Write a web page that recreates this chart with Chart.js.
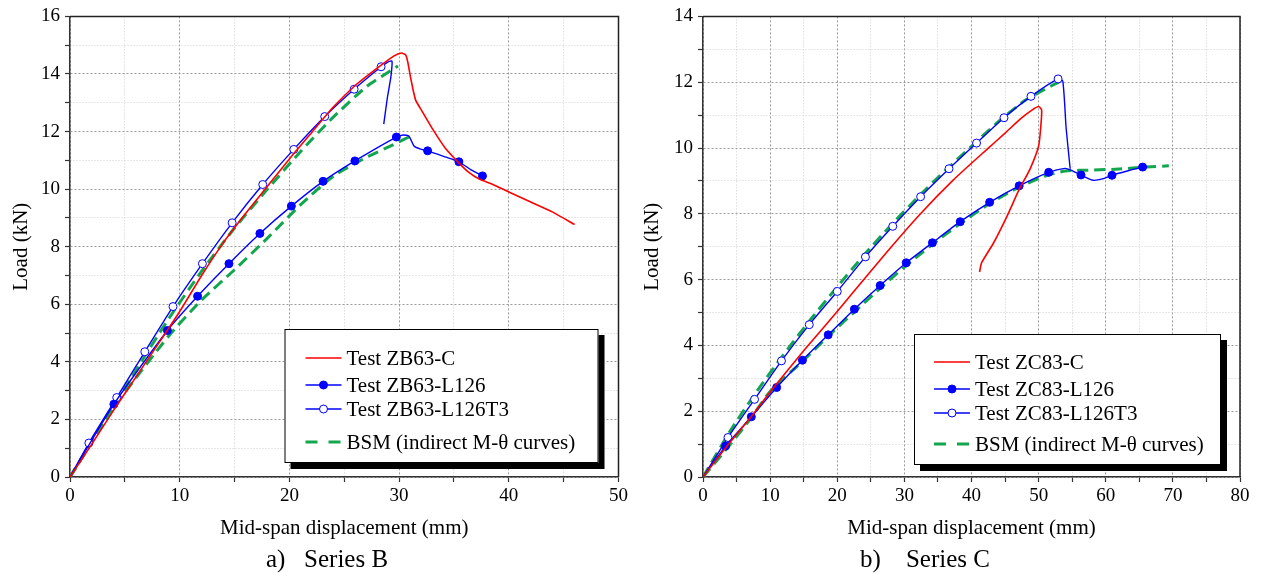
<!DOCTYPE html>
<html><head><meta charset="utf-8">
<script src="https://cdn.jsdelivr.net/npm/chart.js@4.4.1/dist/chart.umd.min.js"></script>
<style>
html,body{margin:0;padding:0;background:#fff;}
#wrap{position:relative;width:1262px;height:573px;}
.panel{position:absolute;top:0;width:631px;height:573px;}
#pB{left:0}#pC{left:631px}
</style></head><body>
<div id="wrap"><div class="panel" id="pB"><canvas id="cB" width="631" height="573"></canvas></div><div class="panel" id="pC"><canvas id="cC" width="631" height="573"></canvas></div></div>
<script>
// ---------- Series B data ----------
const bLegend = ['Test ZB63-C', 'Test ZB63-L126', 'Test ZB63-L126T3', 'BSM (indirect M-θ curves)'];
const bCX = [0,2,4,6,8,10,12,14,16,18,20,22,24,26,28,29.5,30.2,30.6,30.8,31.06,31.5,32.1,33,34.2,35.4,36.3,37.3,38.5,40,42,44,46];
const bCY = [0,1.15,2.33,3.47,4.6,5.75,7.0,8.15,9.15,10.1,11.05,11.95,12.85,13.6,14.2,14.62,14.73,14.66,14.4,13.85,13.1,12.7,12.12,11.43,10.93,10.6,10.35,10.17,9.9,9.55,9.2,8.77];
const bLX = [0,4.0,8.88,11.63,14.49,17.31,20.18,23.07,25.97,29.75,30.4,30.9,31.36,31.9,32.6,34.2,35.45,36.6,37.6];
const bLY = [0,2.53,5.09,6.28,7.41,8.46,9.41,10.27,10.98,11.81,11.88,11.84,11.5,11.4,11.33,11.12,10.95,10.66,10.46];
const bLMarks = [1,2,3,4,5,6,7,8,9,14,16,18];
const bTX = [0,1.72,4.26,6.82,9.39,12.07,14.78,17.57,20.4,23.22,25.9,28.36,29.0,29.35,29.25,28.94,28.6];
const bTY = [0,1.18,2.76,4.35,5.92,7.41,8.83,10.16,11.38,12.52,13.47,14.25,14.42,14.45,13.9,13.2,12.26];
const bTMarks = [1,2,3,4,5,6,7,8,9,10,11];
const bG1X = [0,3,6,9,12,15,18,21,24,27,29.9];
const bG1Y = [0,1.85,3.7,5.5,7.15,8.65,10.0,11.3,12.5,13.55,14.28];
const bG2X = [0,4,9,12,15,18,21,24,27,29.5,31.2];
const bG2Y = [0,2.42,4.9,6.15,7.2,8.3,9.45,10.45,11.1,11.55,11.87];

// ---------- Series C data ----------
const cLegend = ['Test ZC83-C', 'Test ZC83-L126', 'Test ZC83-L126T3', 'BSM (indirect M-θ curves)'];
const cCX = [0,3.5,7.2,10,15,18.7,22.4,27.4,32.3,37.3,42.3,45,47.2,49,50.0,50.45,50.3,50.0,48.7,47.1,45.3,43.3,41.5,41.2];
const cCY = [0,0.92,1.84,2.58,3.84,4.72,5.62,6.84,7.98,9.03,9.96,10.45,10.87,11.15,11.26,11.15,10.6,10.06,9.35,8.74,7.93,7.12,6.51,6.23];
const cLX = [0,3.36,7.2,10.97,14.81,18.65,22.55,26.39,30.28,34.18,38.32,42.7,47.1,51.5,53.9,54.8,56.31,58.1,59.5,60.93,63.2,65.49,66.2];
const cLY = [0,0.94,1.83,2.72,3.55,4.32,5.1,5.82,6.51,7.12,7.76,8.35,8.85,9.26,9.38,9.33,9.18,9.02,9.06,9.17,9.3,9.42,9.44];
const cLMarks = [1,2,3,4,5,6,7,8,9,10,11,12,13,16,19,21];
const cTX = [0,3.72,7.68,11.69,15.83,20.0,24.2,28.27,32.42,36.65,40.75,44.84,48.86,52.9,53.6,54.1,54.7];
const cTY = [0,1.2,2.36,3.53,4.63,5.64,6.69,7.62,8.52,9.37,10.15,10.92,11.57,12.1,12.03,10.6,9.37];
const cTMarks = [1,2,3,4,5,6,7,8,9,10,11,12,13];
const cG1X = [0,4,8,12,16,20,24,28,32,36,40,44,48,52,53.7];
const cG1Y = [0,1.38,2.6,3.72,4.78,5.78,6.75,7.65,8.5,9.3,10.05,10.8,11.45,11.9,12.08];
const cG2X = [0,3.5,7,10,15,19,23,27,31,35,39,43,47,51,54,58,62,66,69.4];
const cG2Y = [0,0.85,1.75,2.6,3.55,4.35,5.1,5.85,6.55,7.2,7.8,8.35,8.8,9.15,9.3,9.33,9.36,9.42,9.46];

// ---------- axes ----------
const bXMax = 50, bYMax = 16, cXMax = 80, cYMax = 14;
const xTitle = 'Mid-span displacement (mm)';
const yTitle = 'Load (kN)';

const FONT = '"Liberation Serif", "Times New Roman", serif';
const RED = '#ff0000', BLUE = '#0000ff', GREEN = '#12a64f';

function pts(xs, ys) { return xs.map((x, i) => ({x: x, y: ys[i]})); }

function datasets(labels, cx, cy, lx, ly, lm, tx, ty, tm, g1x, g1y, g2x, g2y) {
  return [
    {label: labels[0], data: pts(cx, cy), borderColor: RED, borderWidth: 1.6, pointRadius: 0, tension: 0.2, order: 1, legendRow: 0},
    {label: labels[1], data: pts(lx, ly), borderColor: BLUE, borderWidth: 1.4, tension: 0.2, order: 2, legendRow: 1, markerFill: BLUE,
     pointRadius: c => lm.includes(c.dataIndex) ? 4 : 0, pointBackgroundColor: BLUE, pointBorderColor: BLUE, pointBorderWidth: 1},
    {label: labels[2], data: pts(tx, ty), borderColor: BLUE, borderWidth: 1.4, tension: 0.2, order: 2, legendRow: 2, markerFill: '#ffffff',
     pointRadius: c => tm.includes(c.dataIndex) ? 4 : 0, pointBackgroundColor: '#ffffff', pointBorderColor: BLUE, pointBorderWidth: 1},
    {label: labels[3], data: pts(g1x, g1y), borderColor: GREEN, borderWidth: 3, borderDash: [11, 6], pointRadius: 0, tension: 0.2, order: 3, legendRow: 3},
    {label: labels[3], data: pts(g2x, g2y), borderColor: GREEN, borderWidth: 3, borderDash: [11, 6], pointRadius: 0, tension: 0.2, order: 3}
  ];
}

const decor = {
  id: 'decor',
  afterDraw(chart, args, o) {
    const {ctx, chartArea: a} = chart;
    ctx.save();
    ctx.strokeStyle = '#222'; ctx.lineWidth = 1.5;
    ctx.beginPath(); ctx.moveTo(a.left, a.top); ctx.lineTo(a.right, a.top); ctx.lineTo(a.right, a.bottom); ctx.stroke();
    // legend box
    const bx = a.right - o.offRight - o.w, by = a.bottom - o.offBottom - o.h;
    ctx.fillStyle = '#000'; ctx.fillRect(bx + 6, by + 6, o.w, o.h);
    ctx.fillStyle = '#fff'; ctx.fillRect(bx, by, o.w, o.h);
    ctx.strokeStyle = '#000'; ctx.lineWidth = 1; ctx.strokeRect(bx + 0.5, by + 0.5, o.w - 1, o.h - 1);
    ctx.font = '21px ' + FONT; ctx.textBaseline = 'middle'; ctx.textAlign = 'left';
    chart.data.datasets.forEach(ds => {
      if (ds.legendRow === undefined) return;
      const y = by + o.rows[ds.legendRow];
      const x0 = bx + o.sx, x1 = x0 + 36;
      ctx.save();
      ctx.strokeStyle = ds.borderColor; ctx.lineWidth = ds.borderWidth;
      if (ds.borderDash) ctx.setLineDash([12, 11]);
      ctx.beginPath(); ctx.moveTo(x0, y); ctx.lineTo(x1, y); ctx.stroke();
      ctx.restore();
      if (ds.markerFill) {
        ctx.beginPath(); ctx.arc((x0 + x1) / 2, y, 4, 0, Math.PI * 2);
        ctx.fillStyle = ds.markerFill; ctx.fill();
        ctx.strokeStyle = BLUE; ctx.lineWidth = 1; ctx.stroke();
      }
      ctx.fillStyle = '#000';
      ctx.fillText(ds.label, bx + o.tx, y + 1);
    });
    // caption
    ctx.font = '25px ' + FONT; ctx.textAlign = 'center'; ctx.fillStyle = '#000';
    ctx.fillText(o.caption, o.capX, 560);
    ctx.restore();
  }
};

function scales(xMax, yMax, yWidth) {
  const dash = (c, step) => c.tick ? (Math.round(c.tick.value / step) % 2 === 0 ? [2, 2] : [1, 2]) : [];
  const gcol = (c, step) => c.tick && Math.round(c.tick.value / step) % 2 === 0 ? '#9a9a9a' : '#cfcfcf';
  const common = (step, isX) => ({
    type: 'linear', min: 0, max: isX ? xMax : yMax,
    grid: {color: c => gcol(c, step), lineWidth: 1, drawTicks: true, tickLength: 5, tickColor: '#333', tickWidth: 1.2},
    border: {display: true, color: '#333', width: 1.5, dash: c => dash(c, step)},
    ticks: {stepSize: step, autoSkip: false, maxRotation: 0, color: '#000', font: {family: FONT, size: 19},
            padding: isX ? 3 : 5,
            callback: v => (Math.round(v / step) % 2 === 0 ? String(v) : '')},
    title: {display: true, text: isX ? xTitle : yTitle, color: '#000', font: {family: FONT, size: 21},
            padding: isX ? {top: 0, bottom: 32} : {top: 9, bottom: 0}}
  });
  const x = common(5, true); x.position = 'bottom'; x.afterFit = s => { s.height = 96; };
  const y = common(1, false); y.position = 'left'; y.afterFit = s => { s.width = yWidth; };
  return {x: x, y: y};
}

function make(id, ds, xMax, yMax, yWidth, padRight, padTop, decorOpts) {
  return new Chart(document.getElementById(id), {
    type: 'line',
    data: {datasets: ds},
    options: {
      responsive: false, animation: false, devicePixelRatio: 1, events: [],
      layout: {padding: {left: 0, right: padRight, top: padTop, bottom: 0}},
      scales: scales(xMax, yMax, yWidth),
      plugins: {legend: {display: false}, tooltip: {enabled: false}, decor: decorOpts}
    },
    plugins: [decor]
  });
}

make('cB', datasets(bLegend, bCX, bCY, bLX, bLY, bLMarks, bTX, bTY, bTMarks, bG1X, bG1Y, bG2X, bG2Y),
  bXMax, bYMax, 70, 12, 15,
  {w: 314, h: 134, offRight: 20, offBottom: 14, rows: [29, 56, 80, 113], sx: 21, tx: 62, caption: 'a)   Series B', capX: 327});
make('cC', datasets(cLegend, cCX, cCY, cLX, cLY, cLMarks, cTX, cTY, cTMarks, cG1X, cG1Y, cG2X, cG2Y),
  cXMax, cYMax, 72, 22, 14,
  {w: 307, h: 131, offRight: 19, offBottom: 12, rows: [28, 55, 79, 110], sx: 20, tx: 61, caption: 'b)    Series C', capX: 294});
</script>
</body></html>
